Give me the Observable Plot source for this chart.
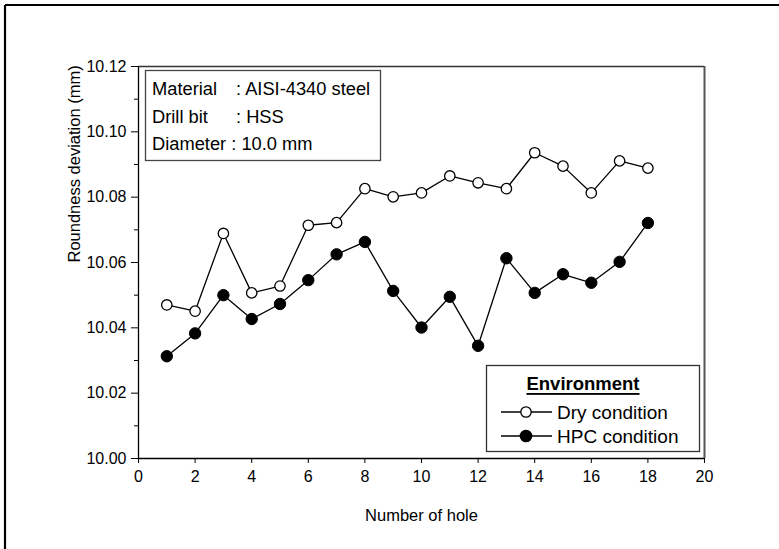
<!DOCTYPE html>
<html>
<head>
<meta charset="utf-8">
<script src="https://cdn.jsdelivr.net/npm/d3@7"></script>
<script src="https://cdn.jsdelivr.net/npm/@observablehq/plot@0.6"></script>
<style>
  html, body { margin: 0; padding: 0; background: #fff; }
  #chart { width: 779px; height: 549px; }
</style>
</head>
<body>
<div id="chart"></div>
<script>
// ---- data ----
const holes = [1,2,3,4,5,6,7,8,9,10,11,12,13,14,15,16,17,18];
const dryValues = [10.0470,10.0451,10.0689,10.0507,10.0528,10.0714,10.0722,10.0826,10.0801,10.0813,10.0865,10.0844,10.0826,10.0936,10.0895,10.0813,10.0911,10.0889];
const hpcValues = [10.0313,10.0383,10.0500,10.0427,10.0473,10.0546,10.0625,10.0663,10.0513,10.0401,10.0495,10.0345,10.0613,10.0507,10.0564,10.0538,10.0602,10.0721];
const xTicks = [0,2,4,6,8,10,12,14,16,18,20];
const yTicks = [10.00,10.02,10.04,10.06,10.08,10.10,10.12];
const yMinorTicks = [10.01,10.03,10.05,10.07,10.09,10.11];
const seriesNames = ["Dry condition","HPC condition"];
const legendTitle = "Environment";
const infoLabels = ["Material", "Drill bit", "Diameter : 10.0 mm"];
const infoValues = [": AISI-4340 steel", ": HSS", ""];
const xTitle = "Number of hole";
const yTitle = "Roundness deviation (mm)";

const dry = holes.map((h,i) => ({hole: h, value: dryValues[i]}));
const hpc = holes.map((h,i) => ({hole: h, value: hpcValues[i]}));

const FONT = "Liberation Sans, Arial, Helvetica, sans-serif";

const chart = Plot.plot({
  width: 779,
  height: 549,
  marginLeft: 138,
  marginRight: 75,
  marginTop: 66,
  marginBottom: 91,
  style: {fontFamily: FONT, fontSize: "16px", color: "#000", background: "#fff"},
  x: {domain: [0, 20], label: null},
  y: {domain: [10.00, 10.12], label: null},
  marks: [
    Plot.axisX({ticks: xTicks, tickSize: 5, tickPadding: 7, fontSize: 16, label: null, tickFormat: d => String(d)}),
    Plot.axisY({ticks: yTicks, tickSize: 7, tickPadding: 5, fontSize: 16, label: null, tickFormat: d => d.toFixed(2)}),
    Plot.axisY({ticks: yMinorTicks, tickSize: 4, label: null, tickFormat: () => ""}),
    Plot.ruleY([10.12], {stroke: "#333", strokeWidth: 1.3}),
    Plot.ruleX([20], {stroke: "#555", strokeWidth: 2}),
    Plot.ruleY([10.00], {stroke: "#000", strokeWidth: 1.3}),
    Plot.ruleX([0], {stroke: "#000", strokeWidth: 1.3}),
    Plot.line(dry, {x: "hole", y: "value", stroke: "#000", strokeWidth: 1.3}),
    Plot.line(hpc, {x: "hole", y: "value", stroke: "#000", strokeWidth: 1.3}),
    Plot.dot(dry, {x: "hole", y: "value", r: 5.2, fill: "#fff", stroke: "#000", strokeWidth: 1.3}),
    Plot.dot(hpc, {x: "hole", y: "value", r: 5.7, fill: "#000", stroke: "#000", strokeWidth: 1}),
    Plot.text([xTitle], {frameAnchor: "bottom", dy: 57, text: d => d, fontSize: 16.5, lineAnchor: "middle"}),
    Plot.text([yTitle], {frameAnchor: "left", dx: -64, rotate: -90, text: d => d, fontSize: 16.5, lineAnchor: "middle"})
  ]
});

document.getElementById("chart").appendChild(chart);

// ---- decorations: outer frame, info box, legend ----
const svg = d3.select(chart);

// outer frame (top and left edges visible)
svg.append("line").attr("x1", 5).attr("y1", 5).attr("x2", 779).attr("y2", 5)
  .attr("stroke", "#000").attr("stroke-width", 2.2);
svg.append("line").attr("x1", 5).attr("y1", 5).attr("x2", 5).attr("y2", 549)
  .attr("stroke", "#000").attr("stroke-width", 2.2);

// info box
const info = svg.append("g").attr("font-family", FONT).attr("font-size", 18.3)
  .attr("fill", "#000").attr("text-anchor", "start");
info.append("rect").attr("x", 145.5).attr("y", 70.5).attr("width", 235).attr("height", 90)
  .attr("fill", "#fff").attr("stroke", "#444").attr("stroke-width", 1.3);
const infoY = [88.5, 116, 143.5];
infoLabels.forEach((lab, i) => {
  info.append("text").attr("x", 152).attr("y", infoY[i]).attr("text-anchor", "start")
    .attr("dominant-baseline", "central").text(lab);
  if (infoValues[i]) {
    info.append("text").attr("x", 236).attr("y", infoY[i]).attr("text-anchor", "start")
      .attr("dominant-baseline", "central").text(infoValues[i]);
  }
});

// legend
const lg = svg.append("g").attr("font-family", FONT).attr("fill", "#000").attr("text-anchor", "start");
lg.append("rect").attr("x", 486.5).attr("y", 365.5).attr("width", 213).attr("height", 86)
  .attr("fill", "#fff").attr("stroke", "#333").attr("stroke-width", 1.3);
lg.append("text").attr("x", 583).attr("y", 383.5).attr("text-anchor", "middle")
  .attr("dominant-baseline", "central").attr("font-size", 18.5).attr("font-weight", "bold")
  .attr("text-decoration", "underline").text(legendTitle);
const rowY = [412, 436];
seriesNames.forEach((name, i) => {
  lg.append("line").attr("x1", 501).attr("x2", 552).attr("y1", rowY[i]).attr("y2", rowY[i])
    .attr("stroke", "#000").attr("stroke-width", 1.3);
  lg.append("circle").attr("cx", 526).attr("cy", rowY[i]).attr("r", i === 0 ? 5.2 : 5.7)
    .attr("fill", i === 0 ? "#fff" : "#000").attr("stroke", "#000").attr("stroke-width", 1.3);
  lg.append("text").attr("x", 557).attr("y", rowY[i]).attr("text-anchor", "start")
    .attr("dominant-baseline", "central").attr("font-size", 19).text(name);
});
</script>
</body>
</html>
